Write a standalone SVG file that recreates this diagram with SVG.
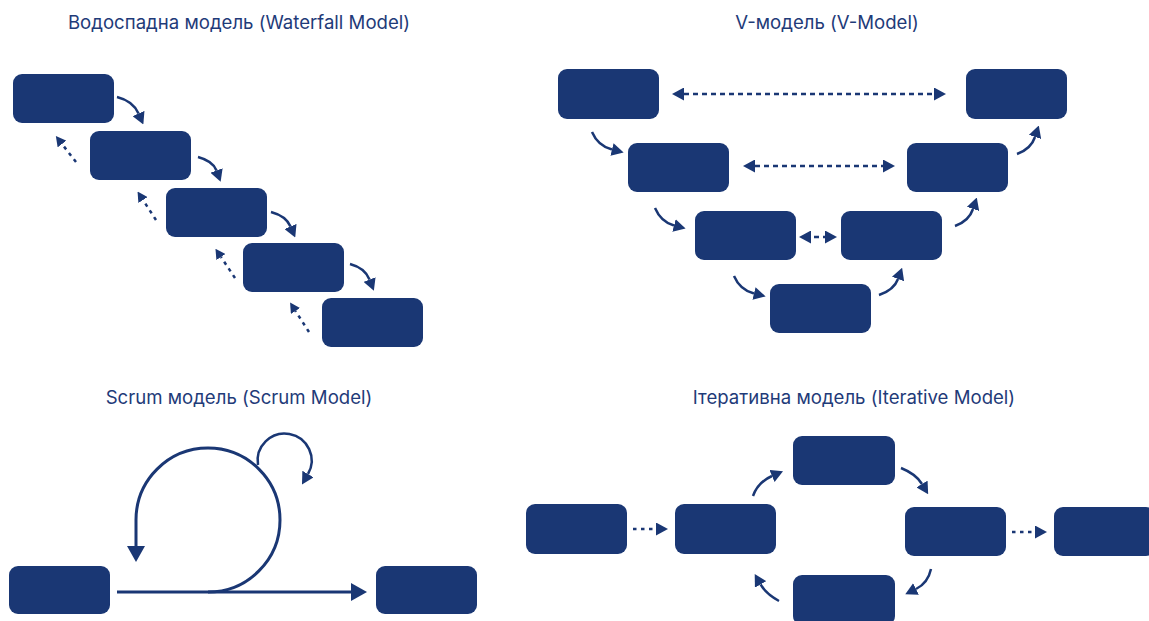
<svg xmlns="http://www.w3.org/2000/svg" width="1149" height="621" viewBox="0 0 1149 621">
<style>
.box{fill:#1a3774;}
.t{font-family:Inter,"Noto Sans","Liberation Sans",sans-serif;font-size:18.6px;fill:#1f3b79;text-anchor:middle;}
.c{fill:none;stroke:#1a3774;stroke-width:2.5;}
.dot{fill:none;stroke:#1a3774;stroke-width:2.5;stroke-dasharray:3.5 4.5;}
.dash{fill:none;stroke:#1a3774;stroke-width:2.5;stroke-dasharray:5 4;}
.s{fill:none;stroke:#1a3774;stroke-width:3;}
</style>
<defs>
<marker id="ah" markerUnits="userSpaceOnUse" viewBox="0 0 12 13" refX="0" refY="6.5" markerWidth="12" markerHeight="13" orient="auto"><path d="M0,0 L12,6.5 L0,13 z" fill="#1a3774"/></marker>
<marker id="ahd" markerUnits="userSpaceOnUse" viewBox="0 0 12 13" refX="0" refY="6.5" markerWidth="12" markerHeight="13" orient="auto-start-reverse"><path d="M0,0 L12,6.5 L0,13 z" fill="#1a3774"/></marker>
<marker id="ahs" markerUnits="userSpaceOnUse" viewBox="0 0 10 11" refX="0" refY="5.5" markerWidth="10" markerHeight="11" orient="auto"><path d="M0,0 L10,5.5 L0,11 z" fill="#1a3774"/></marker>
<marker id="ahb" markerUnits="userSpaceOnUse" viewBox="0 0 16 18" refX="0" refY="9" markerWidth="16" markerHeight="18" orient="auto"><path d="M0,0 L16,9 L0,18 z" fill="#1a3774"/></marker>
<marker id="ahm" markerUnits="userSpaceOnUse" viewBox="0 0 12 13" refX="0" refY="6.5" markerWidth="12" markerHeight="13" orient="auto"><path d="M0,0 L12,6.5 L0,13 z" fill="#1a3774"/></marker>
</defs>

<g id="titles">
<text class="t" x="239" y="29">Водоспадна модель (Waterfall Model)</text>
<text class="t" x="827" y="29">V-модель (V-Model)</text>
<text class="t" x="239" y="404">Scrum модель (Scrum Model)</text>
<text class="t" x="854" y="404">Ітеративна модель (Iterative Model)</text>
</g>

<g id="waterfall">
<rect id="wf1" class="box" x="13" y="74" width="101" height="49" rx="9"/>
<rect id="wf2" class="box" x="90" y="131" width="101" height="49" rx="9"/>
<rect id="wf3" class="box" x="166" y="188" width="101" height="49" rx="9"/>
<rect id="wf4" class="box" x="243" y="243" width="101" height="49" rx="9"/>
<rect id="wf5" class="box" x="322" y="298" width="101" height="49" rx="9"/>
</g>

<g id="vmodel">
<rect id="v1" class="box" x="558" y="69" width="101" height="50" rx="9"/>
<rect id="v2" class="box" x="628" y="143" width="101" height="49" rx="9"/>
<rect id="v3" class="box" x="695" y="211" width="101" height="49" rx="9"/>
<rect id="v4" class="box" x="770" y="284" width="101" height="49" rx="9"/>
<rect id="v5" class="box" x="841" y="211" width="101" height="49" rx="9"/>
<rect id="v6" class="box" x="907" y="143" width="101" height="49" rx="9"/>
<rect id="v7" class="box" x="966" y="69" width="101" height="50" rx="9"/>
</g>

<g id="scrum">
<rect id="s1" class="box" x="9" y="566" width="101" height="48" rx="9"/>
<rect id="s2" class="box" x="376" y="566" width="101" height="48" rx="9"/>
</g>

<g id="iterative">
<rect id="i1" class="box" x="526" y="504" width="101" height="50" rx="9"/>
<rect id="i2" class="box" x="675" y="504" width="101" height="50" rx="9"/>
<rect id="i3" class="box" x="793" y="436" width="102" height="49" rx="9"/>
<rect id="i4" class="box" x="905" y="507" width="101" height="49" rx="9"/>
<rect id="i5" class="box" x="1054" y="507" width="101" height="49" rx="9"/>
<rect id="i6" class="box" x="793" y="575" width="102" height="50" rx="9"/>
</g>

<g id="connectors">
<path class="c" d="M117,97 Q133,101 138.5,113.5" marker-end="url(#ah)"/>
<path class="c" d="M198,157 Q213,161 216.5,170.5" marker-end="url(#ah)"/>
<path class="c" d="M271,212 Q286,216 290.5,226.5" marker-end="url(#ah)"/>
<path class="c" d="M350,264 Q365,268 369.5,279.5" marker-end="url(#ah)"/>
<path class="dot" d="M76,162 L62,144" marker-end="url(#ahs)"/>
<path class="dot" d="M156,220 L143,200" marker-end="url(#ahs)"/>
<path class="dot" d="M235,278 L221,257" marker-end="url(#ahs)"/>
<path class="dot" d="M309,332 L295.5,311" marker-end="url(#ahs)"/>
<path class="c" d="M592,132 Q598,146 612,149.5" marker-end="url(#ah)"/>
<path class="c" d="M655,208 Q661,222 674,225.5" marker-end="url(#ah)"/>
<path class="c" d="M734,276 Q740,290 754,293.5" marker-end="url(#ah)"/>
<path class="c" d="M879,295 Q894,290 898,279" marker-end="url(#ah)"/>
<path class="c" d="M955,226 Q969,221 973,209" marker-end="url(#ah)"/>
<path class="c" d="M1017,154 Q1031,149 1035,137" marker-end="url(#ah)"/>
<path class="dash" d="M684,94 L934,94" marker-start="url(#ahd)" marker-end="url(#ahd)"/>
<path class="dash" d="M755,166 L883,166" marker-start="url(#ahd)" marker-end="url(#ahd)"/>
<path class="dash" d="M811,237 L825,237" stroke-dashoffset="-3" stroke-dasharray="0 3 8 10" marker-start="url(#ahd)" marker-end="url(#ahd)"/>
<path class="s" d="M117,592 L351,592" marker-end="url(#ahb)"/>
<path class="s" d="M208,592 A72,72 0 0 0 280,520 A72,72 0 0 0 208,448 A72,72 0 0 0 136,520 L136,546" marker-end="url(#ahb)"/>
<path class="c" d="M258,465 A27,27 0 1 1 308,474" marker-end="url(#ahm)"/>
<path class="dot" d="M633,529 L656,529" stroke-dasharray="3 4 5 4" marker-end="url(#ah)"/>
<path class="dot" d="M1012,532 L1035,532" stroke-dasharray="3 4 5 4" marker-end="url(#ah)"/>
<path class="c" d="M753,496 Q758,482 772,476" marker-end="url(#ah)"/>
<path class="c" d="M901,468 Q916,474 922,484" marker-end="url(#ah)"/>
<path class="c" d="M931,569 Q928,583 916,589" marker-end="url(#ah)"/>
<path class="c" d="M779,601 Q766,594 760.6,584.4" marker-end="url(#ah)"/>
</g>
</svg>
